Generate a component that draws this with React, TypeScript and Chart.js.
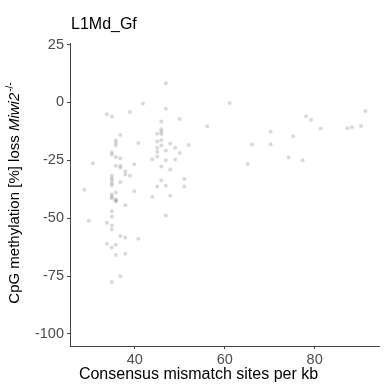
import React, { useEffect, useRef } from "react";
import { Chart, registerables } from "chart.js";

Chart.register(...registerables);

const chartTitle = "L1Md_Gf";
const xAxisTitle = "Consensus mismatch sites per kb";
const yTitlePlain = "CpG methylation [%] loss ";
const yTitleItalic = "Miwi2";
const yTitleSup = "-/-";

const xTicks = [40, 60, 80];
const yTicks = [25, 0, -25, -50, -75, -100];

const xValues = [
  28.8, 29.8, 30.7,
  33.8, 33.8, 33.8,
  34.9, 34.9, 34.9, 34.9, 34.9, 34.9, 34.9, 34.9, 34.9, 34.9, 34.9, 34.9, 34.9, 34.9, 34.9, 34.9, 34.9,
  35.8, 35.8, 35.8, 35.8, 35.8, 35.8, 35.8, 35.8, 35.8, 35.8, 35.8,
  36.8, 36.8, 36.8, 36.8, 36.8, 36.8, 36.8,
  37.9, 37.9, 37.9, 37.9, 37.9,
  38.9, 38.9,
  39.9, 39.9,
  40.8, 40.8,
  41.8,
  43.9, 43.9,
  45.0, 45.0, 45.0, 45.0, 45.0, 45.0,
  45.9, 45.9, 45.9, 45.9, 45.9, 45.9, 45.9, 45.9,
  46.9, 46.9, 46.9, 46.9, 46.9, 46.9,
  47.9, 47.9, 47.9,
  49.0, 49.0,
  50.0, 50.0,
  51.0, 51.0,
  52.0, 56.1, 61.1, 65.1, 66.1,
  70.2, 70.2,
  74.2, 75.2, 77.3, 78.1, 79.2, 81.3, 87.3, 88.3, 90.3, 91.3,
];

const yValues = [
  -37.7, -51.1, -26.2,
  -5.1, -52.0, -61.0,
  -6.0, -21.5, -22.5, -31.7, -32.8, -33.7, -34.9, -35.7, -39.8, -40.7, -41.5, -47.0, -49.3, -53.1, -54.9, -62.7, -77.5,
  -16.3, -17.4, -18.5, -23.6, -27.3, -38.9, -41.8, -42.4, -42.7, -61.5, -65.9,
  -14.0, -24.1, -27.3, -28.2, -34.3, -57.7, -75.1,
  -29.7, -31.1, -44.4, -58.3, -65.3,
  -4.1, -31.7,
  -26.7, -38.3,
  -17.5, -58.9,
  -0.4,
  -24.5, -40.7,
  -13.5, -16.8, -19.5, -21.3, -23.3, -36.3,
  -8.2, -11.6, -12.6, -13.6, -16.3, -18.6, -27.6, -33.7,
  8.3, -2.7, -20.7, -25.0, -36.0, -48.8,
  -17.7, -29.0, -40.3,
  -19.5, -24.6,
  -7.1, -21.8,
  -33.0, -36.3,
  -18.4, -10.3, -0.2, -26.6, -18.2,
  -12.5, -18.0,
  -23.8, -14.6, -24.9, -5.9, -7.5, -11.2, -11.1, -10.7, -10.2, -3.7,
];

const FONT = "'Liberation Sans', Arial, Helvetica, sans-serif";

const textPlugin = {
  id: "customText",
  afterDraw(chart: any) {
    const ctx = chart.ctx as CanvasRenderingContext2D;
    ctx.save();
    ctx.fillStyle = "#000";
    ctx.font = `16px ${FONT}`;
    ctx.textAlign = "left";
    ctx.textBaseline = "alphabetic";
    ctx.fillText(chartTitle, 71, 28.5);

    ctx.textAlign = "center";
    ctx.textBaseline = "middle";
    ctx.fillText(xAxisTitle, 198.5, 375);

    ctx.translate(15, 193);
    ctx.rotate(-Math.PI / 2);
    ctx.textAlign = "left";
    ctx.textBaseline = "middle";
    const fPlain = `15px ${FONT}`;
    const fItal = `italic 15px ${FONT}`;
    const fSup = `10px ${FONT}`;
    ctx.font = fPlain;
    const w1 = ctx.measureText(yTitlePlain).width;
    ctx.font = fItal;
    const w2 = ctx.measureText(yTitleItalic).width;
    ctx.font = fSup;
    const w3 = ctx.measureText(yTitleSup).width;
    let x = -(w1 + w2 + w3 + 1) / 2;
    ctx.font = fPlain;
    ctx.fillText(yTitlePlain, x, 0);
    x += w1;
    ctx.font = fItal;
    ctx.fillText(yTitleItalic, x, 0);
    x += w2 + 1;
    ctx.font = fSup;
    ctx.fillText(yTitleSup, x, -5);
    ctx.restore();
  },
};

export default function App() {
  const canvasRef = useRef<HTMLCanvasElement | null>(null);

  useEffect(() => {
    const canvas = canvasRef.current;
    if (!canvas) return;
    const points = xValues.map((x, i) => ({ x, y: yValues[i] }));
    const axisColor = "#444444";
    const tickColor = "#4d4d4d";
    const chart = new Chart(canvas, {
      type: "scatter",
      data: {
        datasets: [
          {
            data: points,
            pointRadius: 2,
            pointHoverRadius: 2,
            pointBorderWidth: 0,
            backgroundColor: "rgba(120,120,120,0.28)",
            borderColor: "rgba(0,0,0,0)",
          },
        ],
      },
      options: {
        animation: false,
        responsive: false,
        devicePixelRatio: 1,
        layout: { padding: { top: 43, right: 5, left: 0, bottom: 0 } },
        plugins: {
          legend: { display: false },
          title: { display: false },
          tooltip: { enabled: false },
        },
        scales: {
          x: {
            type: "linear",
            min: 25.6,
            max: 94.3,
            afterBuildTicks: (scale: any) => {
              scale.ticks = xTicks.map((v) => ({ value: v }));
            },
            afterFit: (scale: any) => {
              scale.height = 40;
            },
            ticks: {
              color: tickColor,
              font: { family: FONT, size: 14.5 },
              padding: 2,
              maxRotation: 0,
            },
            grid: {
              display: true,
              drawOnChartArea: false,
              drawTicks: true,
              tickLength: 3,
              color: axisColor,
            },
            border: { display: true, color: axisColor, width: 1 },
          },
          y: {
            type: "linear",
            min: -105.2,
            max: 25.7,
            afterBuildTicks: (scale: any) => {
              scale.ticks = yTicks.map((v) => ({ value: v }));
            },
            afterFit: (scale: any) => {
              scale.width = 70;
            },
            ticks: {
              color: tickColor,
              font: { family: FONT, size: 14.5 },
              padding: 3,
            },
            grid: {
              display: true,
              drawOnChartArea: false,
              drawTicks: true,
              tickLength: 3,
              color: axisColor,
            },
            border: { display: true, color: axisColor, width: 1 },
          },
        },
      },
      plugins: [textPlugin],
    });
    return () => chart.destroy();
  }, []);

  return (
    <div style={{ position: "absolute", left: 0, top: 0, width: 384, height: 386, background: "#fff" }}>
      <canvas ref={canvasRef} width={384} height={386} style={{ display: "block", width: 384, height: 386 }} />
    </div>
  );
}
